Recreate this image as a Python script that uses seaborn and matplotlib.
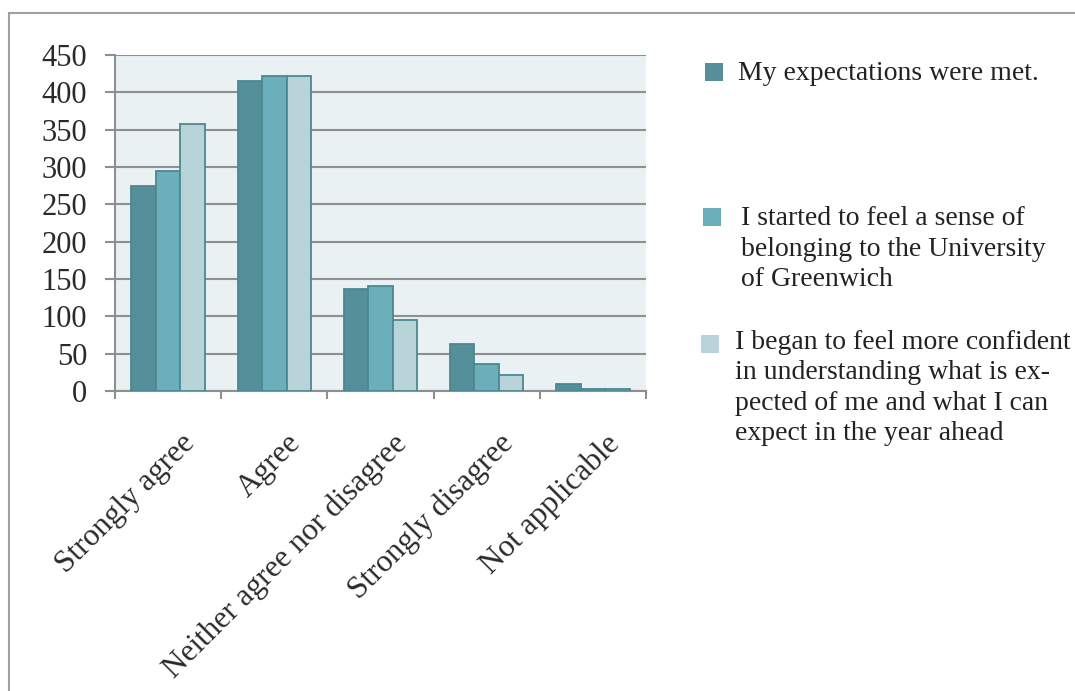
import matplotlib
matplotlib.use("Agg")
import matplotlib.pyplot as plt
import matplotlib.transforms as mtransforms
from matplotlib.patches import Rectangle
import numpy as np
import pandas as pd
import seaborn as sns

# Survey responses per statement
categories = ["Strongly agree", "Agree", "Neither agree nor disagree",
              "Strongly disagree", "Not applicable"]
expectations_met = [274, 415, 137, 63, 9]
sense_of_belonging = [294, 422, 141, 36, 3]
more_confident = [358, 422, 95, 21, 3]

series_labels = [
    "My expectations were met.",
    "I started to feel a sense of\nbelonging to the University\nof Greenwich",
    "I began to feel more confident\nin understanding what is ex-\npected of me and what I can\nexpect in the year ahead",
]
yticks = [0, 50, 100, 150, 200, 250, 300, 350, 400, 450]

colors = ["#55909a", "#6aafb9", "#b9d4d9"]
edge = "#4b8892"

rows = []
for label, vals in zip(series_labels, [expectations_met, sense_of_belonging, more_confident]):
    for cat, v in zip(categories, vals):
        rows.append({"response": cat, "count": v, "statement": label})
df = pd.DataFrame(rows)

sns.set_theme(style="white")
plt.rcParams["font.family"] = ["Liberation Serif", "DejaVu Serif"]

W, H = 1075, 691
fig = plt.figure(figsize=(W / 100, H / 100), dpi=100)
ax = fig.add_axes([115 / W, 1 - 391 / H, (646 - 115) / W, (391 - 55) / H])
ax.set_facecolor("#e9f1f3")

sns.barplot(data=df, x="response", y="count", hue="statement",
            order=categories, hue_order=series_labels, palette=colors,
            saturation=1, width=0.69, gap=0, edgecolor=edge, linewidth=1.3,
            legend=False, ax=ax, zorder=3)

ax.set_xlim(-0.5, len(categories) - 0.5)
ax.set_ylim(0, 450)
ax.set_yticks(yticks)
ax.set_xlabel("")
ax.set_ylabel("")

grid_c = "#8f8f8f"
ax.yaxis.grid(True, color=grid_c, linewidth=1.5, zorder=1)
ax.set_axisbelow(True)
for s in ["top", "right"]:
    ax.spines[s].set_visible(False)
for s in ["left", "bottom"]:
    ax.spines[s].set_visible(True)
    ax.spines[s].set_color(grid_c)
    ax.spines[s].set_linewidth(1.5)

ax.tick_params(axis="y", length=7, width=1.5, color=grid_c, pad=13,
               labelsize=22, labelcolor="#2a2a2a", left=True)
ax.set_xticks(np.arange(-0.5, len(categories)), minor=True)
ax.tick_params(axis="x", which="minor", length=6, width=1.5, color=grid_c, bottom=True)
ax.tick_params(axis="x", which="major", length=0, labelsize=22.5, labelcolor="#2a2a2a")

offset = mtransforms.ScaledTranslation(0.12, -0.33, fig.dpi_scale_trans)
for lab in ax.get_xticklabels():
    lab.set_rotation(45)
    lab.set_ha("right")
    lab.set_va("top")
    lab.set_rotation_mode("anchor")
    lab.set_transform(lab.get_transform() + offset)

# Legend entries drawn as swatches with wrapped text (baseline of last line)
legend_items = [
    (705, 63, 738, 80),
    (703, 208, 741, 286),
    (701, 335, 735, 440),
]
for (sx, sy, tx, ty), col, label in zip(legend_items, colors, series_labels):
    fig.patches.append(Rectangle((sx / W, 1 - (sy + 18) / H), 18 / W, 18 / H,
                                 transform=fig.transFigure, facecolor=col,
                                 edgecolor="none"))
    fig.text(tx / W, 1 - ty / H, label, ha="left", va="baseline",
             fontsize=20, color="#222222", linespacing=1.28)

# Outer frame
fig.patches.append(Rectangle((9 / W, -0.1), 1.2, 1.1 - 13 / H,
                             transform=fig.transFigure, facecolor="none",
                             edgecolor="#a0a0a0", linewidth=1.5, clip_on=False))

fig.savefig("out.png", dpi=100)
